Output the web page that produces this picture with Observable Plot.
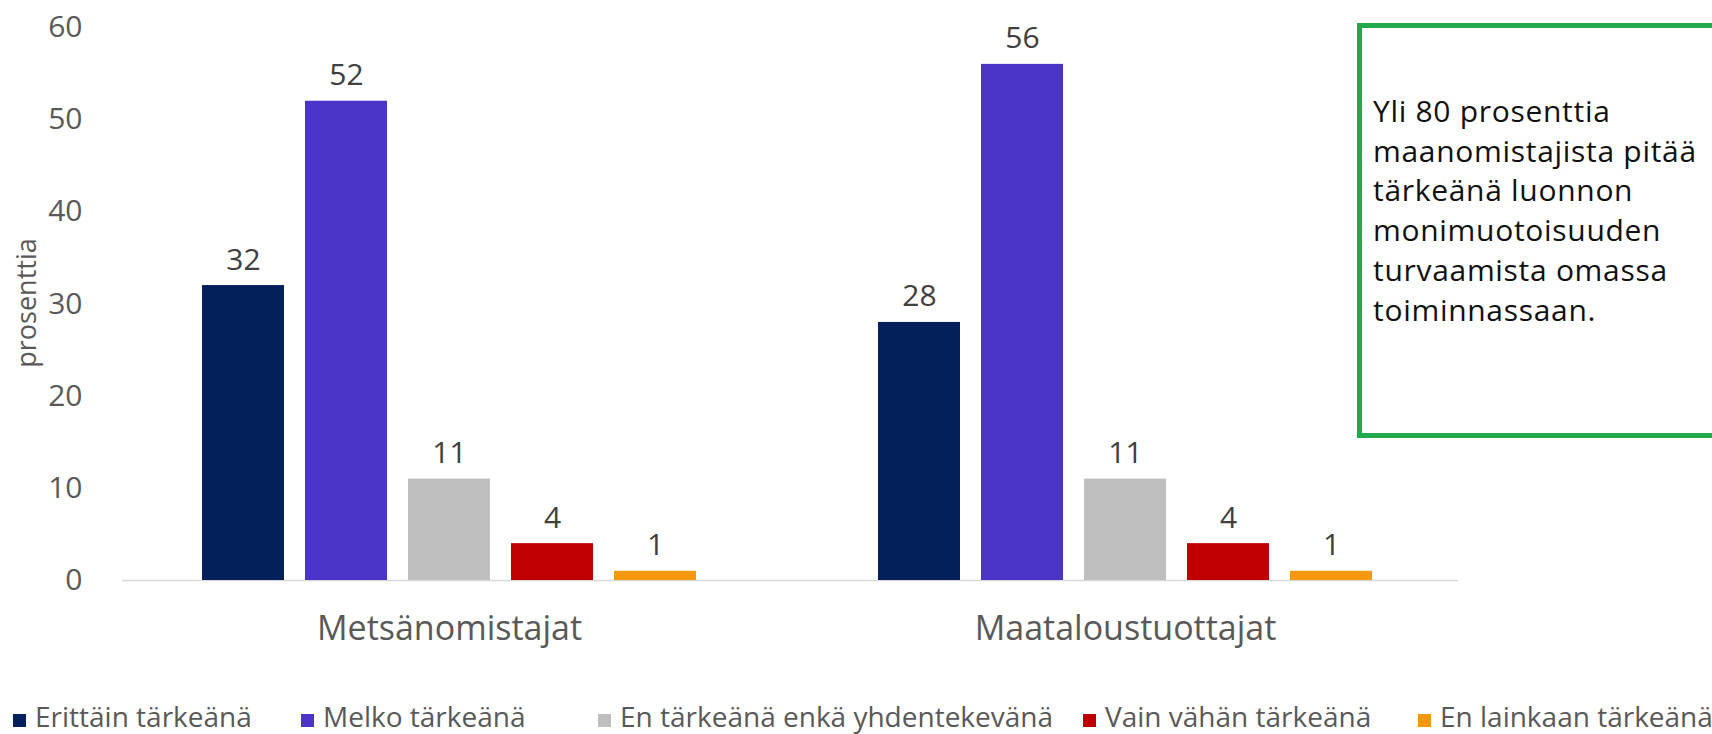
<!DOCTYPE html>
<html>
<head>
<meta charset="utf-8">
<script src="https://cdn.jsdelivr.net/npm/d3@7"></script>
<script src="https://cdn.jsdelivr.net/npm/@observablehq/plot@0.6"></script>
<style>
  html, body { margin: 0; padding: 0; background: #fff; }
  #wrap { position: relative; width: 1712px; height: 734px; overflow: hidden; font-family: "Open Sans", sans-serif; }
  #chart { position: absolute; left: 0; top: 0; }
  #chart svg g[aria-label^="fx-axis"] text { font-size: 34px; fill: #595959; }
  #ylabel { position: absolute; left: 25px; top: 303px; transform: translate(-50%, -50%) rotate(-90deg); font-family: "Open Sans", sans-serif; font-size: 27px; color: #595959; white-space: nowrap; }
  #note { position: absolute; left: 1357px; top: 23px; width: 420px; height: 415px; border: 5px solid #22a94b; box-sizing: border-box; }
  #note p { margin: 0; position: absolute; left: 11px; top: 63px; font-family: "Open Sans", sans-serif; font-size: 30px; line-height: 39.7px; letter-spacing: 0.7px; color: #111; white-space: nowrap; }
  #legend { position: absolute; left: 0; top: 702px; width: 1712px; height: 32px; font-family: "Open Sans", sans-serif; font-size: 28px; line-height: 28px; color: #595959; white-space: nowrap; }
  #legend .item { position: absolute; top: 0; }
  #legend .sw { display: inline-block; width: 13px; height: 13px; margin-right: 9px; vertical-align: baseline; }
</style>
</head>
<body>
<div id="wrap">
  <div id="chart"></div>
  <div id="ylabel">prosenttia</div>
  <div id="note"><p>Yli 80 prosenttia<br>maanomistajista pitää<br>tärkeänä luonnon<br>monimuotoisuuden<br>turvaamista omassa<br>toiminnassaan.</p></div>
  <div id="legend"></div>
</div>
<script>
const groups = ["Metsänomistajat", "Maataloustuottajat"];
const categories = ["Erittäin tärkeänä", "Melko tärkeänä", "En tärkeänä enkä yhdentekevänä", "Vain vähän tärkeänä", "En lainkaan tärkeänä"];
const metsanomistajat = [32, 52, 11, 4, 1];
const maataloustuottajat = [28, 56, 11, 4, 1];
const colors = ["#03205c", "#4a35c8", "#bfbfbf", "#c00000", "#f7990f"];
const yTicks = [0, 10, 20, 30, 40, 50, 60];
const legendX = [13, 301, 598, 1083, 1418];

const seriesByGroup = [metsanomistajat, maataloustuottajat];
const data = [];
groups.forEach((g, gi) => categories.forEach((c, ci) => data.push({group: g, category: c, value: seriesByGroup[gi][ci]})));

const chart = Plot.plot({
  width: 1712,
  height: 690,
  marginLeft: 111,
  marginRight: 249,
  marginTop: 27,
  marginBottom: 110,
  style: {fontFamily: "'Open Sans', sans-serif", fontSize: "30px", color: "#595959", background: "transparent"},
  fx: {domain: groups, padding: 0, label: null, tickSize: 0, tickPadding: 35},
  x: {domain: categories, paddingInner: 0.208, paddingOuter: 0.87, axis: null},
  y: {domain: [0, 60], ticks: yTicks, tickSize: 0, tickPadding: 29, label: null, tickFormat: d => String(d)},
  color: {domain: categories, range: colors},
  marks: [
    Plot.ruleY([{group: groups[0], v: 0}], {fx: "group", y: "v", insetLeft: 11, stroke: "#d9d9d9", strokeWidth: 1.5}),
    Plot.ruleY([{group: groups[1], v: 0}], {fx: "group", y: "v", insetRight: 5, stroke: "#d9d9d9", strokeWidth: 1.5}),
    Plot.barY(data, {fx: "group", x: "category", y: "value", fill: "category"}),
    Plot.text(data, {fx: "group", x: "category", y: "value", text: d => String(d.value), lineAnchor: "bottom", dy: -16, fontSize: 30, fill: "#404040"})
  ]
});
document.getElementById("chart").appendChild(chart);

const legend = document.getElementById("legend");
categories.forEach((c, i) => {
  const item = document.createElement("div");
  item.className = "item";
  item.style.left = legendX[i] + "px";
  const sw = document.createElement("span");
  sw.className = "sw";
  sw.style.background = colors[i];
  item.appendChild(sw);
  item.appendChild(document.createTextNode(c));
  legend.appendChild(item);
});
</script>
</body>
</html>
